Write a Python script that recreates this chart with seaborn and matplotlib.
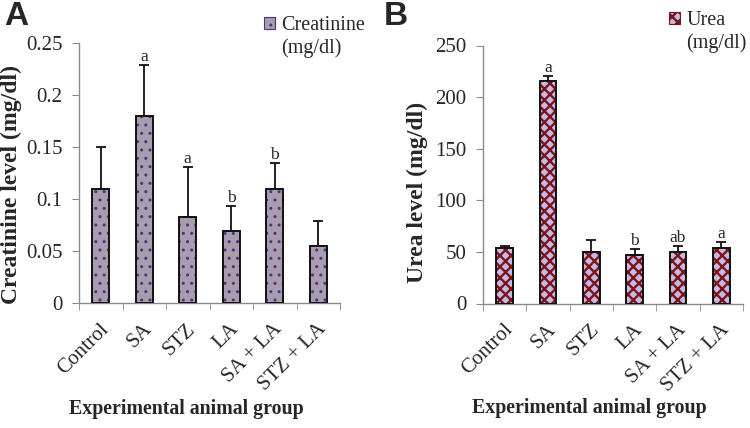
import numpy as np
import pandas as pd
import matplotlib
matplotlib.use("Agg")
import matplotlib.pyplot as plt
import matplotlib.transforms as mtransforms
import seaborn as sns
from matplotlib.patches import Rectangle

# ---------------- data ----------------
groups = ["Control", "SA", "STZ", "LA", "SA + LA", "STZ + LA"]

creatinine = [0.11, 0.18, 0.083, 0.069, 0.11, 0.055]
creatinine_err = [0.04, 0.049, 0.048, 0.024, 0.025, 0.024]
creatinine_sig = ["", "a", "a", "b", "b", ""]
creatinine_ticks = [0, 0.05, 0.1, 0.15, 0.2, 0.25]
creatinine_ticklabels = ["0", "0.05", "0.1", "0.15", "0.2", "0.25"]

urea = [53.4, 216.0, 49.8, 46.6, 49.8, 53.4]
urea_err = [2.2, 4.0, 11.6, 6.1, 5.8, 5.8]
urea_sig = ["", "a", "", "b", "ab", "a"]
urea_ticks = [0, 50, 100, 150, 200, 250]
urea_ticklabels = ["0", "50", "100", "150", "200", "250"]

# ---------------- style ----------------
sns.set_style("ticks")
plt.rcParams["font.family"] = ["Liberation Serif", "DejaVu Serif"]

W, H = 750, 428
fig = plt.figure(figsize=(7.5, 4.28), dpi=100)


def px_axes(left, right, bottom, top):
    return fig.add_axes([left / W, 1 - bottom / H, (right - left) / W, (bottom - top) / H])


axA = px_axes(79, 340, 303, 43)
axB = px_axes(483, 743, 303.5, 45.5)

panels = [
    dict(ax=axA, vals=creatinine, errs=creatinine_err, sig=creatinine_sig,
         ticks=creatinine_ticks, ticklabels=creatinine_ticklabels,
         face="#a99cae", hatchc="#46367e", hatch="..", hlw=1.0,
         ylabel="Creatinine level (mg/dl)", leg=["Creatinine", "(mg/dl)"],
         leg_xy=(264, 16), letter="A", letter_xy=(4, 1),
         ylab_xy=(-0.218, 0.455)),
    dict(ax=axB, vals=urea, errs=urea_err, sig=urea_sig,
         ticks=urea_ticks, ticklabels=urea_ticklabels,
         face="#c8b8e8", hatchc="#7a1418", hatch="xxx", hlw=1.7,
         ylabel="Urea level (mg/dl)", leg=["Urea", "(mg/dl)"],
         leg_xy=(669, 11), letter="B", letter_xy=(384, 1),
         ylab_xy=(-0.212, 0.432)),
]

label_shift = mtransforms.ScaledTranslation(5 / 100, -4 / 100, fig.dpi_scale_trans)

for p in panels:
    ax = p["ax"]
    plt.rcParams["hatch.linewidth"] = p["hlw"]
    df = pd.DataFrame({"group": groups, "value": p["vals"]})
    sns.barplot(data=df, x="group", y="value", color=p["face"], saturation=1,
                width=0.38, edgecolor=p["hatchc"], linewidth=0, hatch=p["hatch"],
                errorbar=None, ax=ax)
    # black outlines over the hatched bars
    for bar in list(ax.patches):
        if hasattr(bar, "set_hatch_linewidth"):
            bar.set_hatch_linewidth(p["hlw"])
        ax.add_patch(Rectangle(bar.get_xy(), bar.get_width(), bar.get_height(),
                               fill=False, edgecolor="#111111", lw=1.4, zorder=3))
    xs = np.arange(len(groups))
    ax.errorbar(xs, p["vals"], yerr=[np.zeros(len(groups)), p["errs"]], fmt="none",
                ecolor="#111111", elinewidth=1.3, capsize=3.5, capthick=1.3, zorder=2)
    for i, s in enumerate(p["sig"]):
        if s:
            ax.annotate(s, (xs[i], p["vals"][i] + p["errs"][i]), xytext=(0, 0),
                        textcoords="offset points", ha="center", va="bottom",
                        fontsize=12.5)

    ax.set_xlim(-0.5, len(groups) - 0.5)
    ax.set_ylim(p["ticks"][0], p["ticks"][-1])
    ax.set_yticks(p["ticks"])
    ax.set_yticklabels(p["ticklabels"], fontsize=15)
    ax.set_xticks(xs)
    ax.set_xticks(np.arange(-0.5, len(groups)), minor=True)
    ax.tick_params(axis="x", which="major", length=0, pad=14)
    ax.tick_params(axis="x", which="minor", length=5, color="#8a8a8a", direction="out")
    ax.tick_params(axis="y", length=5, color="#8a8a8a", direction="out", pad=7)
    ax.set_xticklabels(groups, fontsize=15, rotation=45, ha="right",
                       va="center", rotation_mode="anchor")
    for lab in ax.get_xticklabels():
        lab.set_transform(lab.get_transform() + label_shift)
    for side in ["top", "right"]:
        ax.spines[side].set_visible(False)
    for side in ["left", "bottom"]:
        ax.spines[side].set_color("#8a8a8a")
        ax.spines[side].set_linewidth(1.0)

    ax.set_xlabel("Experimental animal group", fontsize=14.3, fontweight="bold")
    ax.set_ylabel(p["ylabel"], fontsize=17, fontweight="bold")
    ax.yaxis.set_label_coords(*p["ylab_xy"])
    ax.xaxis.set_label_coords(0.41, -0.368)

    handle = Rectangle((0, 0), 1, 1, facecolor=p["face"], edgecolor=p["hatchc"],
                       hatch=p["hatch"], lw=0.8)
    if hasattr(handle, "set_hatch_linewidth"):
        handle.set_hatch_linewidth(p["hlw"])
    blank = Rectangle((0, 0), 1, 1, facecolor="none", edgecolor="none")
    ax.legend([handle, blank], p["leg"], loc="upper left",
              bbox_to_anchor=(p["leg_xy"][0] / W, 1 - p["leg_xy"][1] / H),
              bbox_transform=fig.transFigure, frameon=False, fontsize=14.5,
              handlelength=0.55, handleheight=0.55, handletextpad=0.3,
              labelspacing=0.15, borderpad=0, borderaxespad=0)

    fig.text(p["letter_xy"][0] / W, 1 - p["letter_xy"][1] / H, p["letter"],
             fontsize=24, fontweight="bold", family=["Liberation Sans", "DejaVu Sans"],
             ha="left", va="top")

fig.savefig("out.png", dpi=100)
